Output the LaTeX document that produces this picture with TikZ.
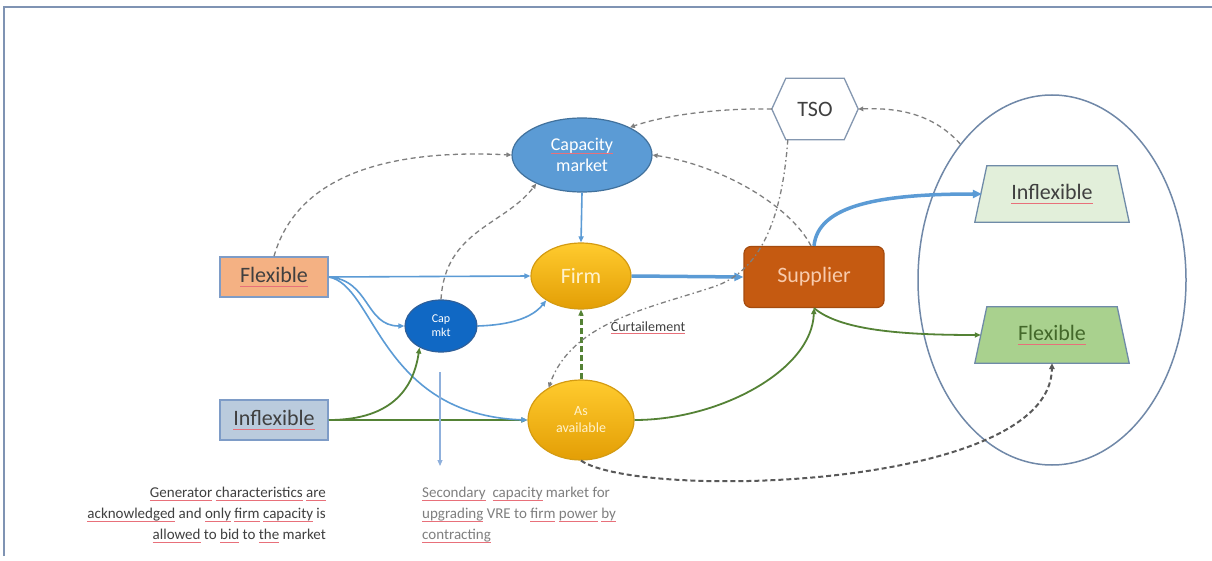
\documentclass[tikz,border=0pt]{standalone}
\usepackage{fontspec}
\setmainfont{Carlito}
\usetikzlibrary{shapes.geometric,arrows.meta}
\definecolor{framecol}{HTML}{7F93B3}
\definecolor{blueln}{HTML}{5B9BD5}
\definecolor{greenln}{HTML}{548235}
\definecolor{dashgray}{HTML}{7F7F7F}
\definecolor{darkdash}{HTML}{595959}
\definecolor{capblue}{HTML}{5B9BD5}
\definecolor{capborder}{HTML}{41719C}
\definecolor{capmktblue}{HTML}{1068C4}
\definecolor{capmktborder}{HTML}{2E5F9A}
\definecolor{goldtop}{HTML}{FFCB2E}
\definecolor{goldbot}{HTML}{E39E05}
\definecolor{goldborder}{HTML}{D49B12}
\definecolor{flexfill}{HTML}{F4B183}
\definecolor{inflfill}{HTML}{BACBDD}
\definecolor{boxborder}{HTML}{7E9CC7}
\definecolor{supfill}{HTML}{C55A11}
\definecolor{supborder}{HTML}{A54B0E}
\definecolor{suptext}{HTML}{F8CBAD}
\definecolor{lightgreen}{HTML}{E2EFDA}
\definecolor{midgreen}{HTML}{A9D18E}
\definecolor{trapborder}{HTML}{6F8BA8}
\definecolor{grpborder}{HTML}{7088A8}
\definecolor{tsoborder}{HTML}{8497B0}
\definecolor{txt}{HTML}{404040}
\definecolor{graytxt}{HTML}{7F7F7F}
\definecolor{splred}{HTML}{E8707A}
\definecolor{firmtxt}{HTML}{FFF2CC}
\definecolor{sdblue}{HTML}{8FB0DC}
\newcommand\sq[1]{\setbox0=\hbox{#1}\rlap{\color{splred}\rule[-0.2em]{\wd0}{0.8pt}}\box0\relax}
\begin{document}
\begin{tikzpicture}[x=1pt,y=-1pt,
  ellip/.style={ellipse, inner sep=0pt, line width=1.2pt},
  gold/.style={ellip, top color=goldtop, bottom color=goldbot, draw=goldborder, text=firmtxt},
  box/.style={rectangle, inner sep=0pt, draw=boxborder, line width=1.5pt, minimum width=108pt, minimum height=40pt, text=txt, font=\fontsize{22}{24}\selectfont},
  arr/.style={-{Triangle[length=6pt,width=5pt]}},
  bigarr/.style={-{Triangle[length=9pt,width=8pt]}},
  bluel/.style={draw=blueln, line width=1.6pt, arr},
  greenl/.style={draw=greenln, line width=1.8pt, arr},
  gdash/.style={draw=dashgray, line width=1.3pt, dash pattern=on 5pt off 3.5pt, -{Triangle[length=5pt,width=4.5pt]}},
  gdashdot/.style={draw=dashgray, line width=1.3pt, dash pattern=on 5pt off 3pt on 1.5pt off 3pt, -{Triangle[length=5pt,width=4.5pt]}},
  ddash/.style={draw=darkdash, line width=2pt, dash pattern=on 5pt off 3pt, -{Triangle[length=6pt,width=5.5pt]}},
  ]
\useasboundingbox (0,0) rectangle (1212,561);
\fill[white] (0,0) rectangle (1212,561);
\draw[framecol, line width=1.5pt] (4,556) -- (4,7) -- (1212,7);

% group ellipse
\node[ellip, draw=grpborder, line width=1.5pt, minimum width=268pt, minimum height=370pt] (grp) at (1052,280) {};

% nodes
\node[ellip, fill=capblue, draw=capborder, minimum width=140pt, minimum height=74pt, text=white, font=\fontsize{18}{21}\selectfont, align=center] (capm) at (582,155) {\sq{Capacity}\\market};
\node[rectangle, minimum width=86pt, minimum height=61pt, inner sep=0pt, text=txt, font=\fontsize{22}{24}\selectfont] (tso) at (815,109) {TSO};
\draw[tsoborder, line width=1.3pt] (tso.west) -- ([xshift=14pt]tso.north west) -- ([xshift=-14pt]tso.north east) -- (tso.east) -- ([xshift=-14pt]tso.south east) -- ([xshift=14pt]tso.south west) -- cycle;

\node[box, fill=flexfill] (flexL) at (274,277) {\sq{Flexible}};
\node[box, fill=inflfill] (inflL) at (274,420) {\sq{Inflexible}};

\node[gold, minimum width=100pt, minimum height=66pt, font=\fontsize{22}{24}\selectfont] (firm) at (581,276) {Firm};
\node[ellip, fill=capmktblue, draw=capmktborder, minimum width=72pt, minimum height=52pt, text=white, font=\fontsize{12}{14}\selectfont, align=center] (capmkt) at (441,326) {Cap\\mkt};
\node[gold, minimum width=106pt, minimum height=80pt, font=\fontsize{14}{17}\selectfont, align=center] (asav) at (581,420) {As\\available};

\node[rectangle, rounded corners=7pt, fill=supfill, draw=supborder, line width=1.2pt, minimum width=140pt, minimum height=61pt, text=suptext, font=\fontsize{22}{24}\selectfont] (sup) at (814,277) {Supplier};

\node[rectangle, minimum width=154pt, minimum height=56pt, inner sep=0pt] (inflR) at (1052,194) {};
\node[rectangle, minimum width=154pt, minimum height=56pt, inner sep=0pt] (flexR) at (1052,335) {};
\filldraw[fill=lightgreen, draw=trapborder, line width=1.3pt] (inflR.south west) -- ([xshift=12pt]inflR.north west) -- ([xshift=-12pt]inflR.north east) -- (inflR.south east) -- cycle;
\filldraw[fill=midgreen, draw=trapborder, line width=1.3pt] (flexR.south west) -- ([xshift=12pt]flexR.north west) -- ([xshift=-12pt]flexR.north east) -- (flexR.south east) -- cycle;
\node[text=txt, font=\fontsize{22}{24}\selectfont] (inflRt) at (inflR.center) {\sq{Inflexible}};
\node[text=greenln!80!black, font=\fontsize{22}{24}\selectfont] (flexRt) at (flexR.center) {\sq{Flexible}};

% solid connectors
\draw[greenl] (inflL.east) -- (asav.west);
\draw[bluel] (flexL.east) -- (firm.west);
\draw[draw=blueln, line width=3.5pt, bigarr] (firm.east) -- (sup.west);
\draw[bluel] (capm.south) -- (firm.north);
\draw[bluel] (flexL.east) .. controls (370,280) and (365,326) .. (capmkt.west);
\draw[bluel] (capmkt.east) .. controls (510,325) and (532,318) .. (firm.215);
\draw[bluel] (flexL.east) .. controls (375,285) and (380,415) .. (asav.west);
\draw[greenl] (inflL.east) .. controls (395,420) and (414,385) .. (capmkt.225);
\draw[draw=greenln, line width=3pt, dash pattern=on 6pt off 3pt, arr] (asav.north) -- (firm.south);
\draw[greenl] (asav.east) .. controls (720,420) and (812,370) .. (sup.south);
\draw[greenl] (sup.south) .. controls (840,330) and (900,335) .. ([xshift=6pt]flexR.west);
\draw[draw=blueln, line width=3.5pt, bigarr] (sup.north) .. controls (818,205) and (880,194) .. ([xshift=7pt]inflR.west);

% dashed connectors
\draw[gdash] (flexL.north) .. controls (300,165) and (410,150) .. (capm.west);
\draw[gdash] (capmkt.north) .. controls (445,230) and (505,225) .. (capm.212);
\draw[gdash] (tso.west) .. controls (720,108) and (665,115) .. (capm.30);
\draw[gdash] ([xshift=-3pt]sup.north) .. controls (790,205) and (720,165) .. (capm.east);
\draw[gdashdot] ([xshift=16pt]tso.south west) .. controls (782,220) and (760,272) .. (713,287) .. controls (650,308) and (572,322) .. (asav.135);
\draw[gdash] (grp.124) .. controls (930,110) and (890,108) .. (tso.east);
\draw[ddash] (asav.south) .. controls (640,500) and (1050,490) .. (flexR.south);

% free arrow to the note
\coordinate (sdtop) at (440,372);
\coordinate (sdbot) at (440,466);
\draw[draw=sdblue, line width=1.1pt, arr] (sdtop) -- (sdbot);

% labels
\node[text=txt, font=\fontsize{14}{16}\selectfont] (curt) at (648,328) {\sq{Curtailement}};
\node[anchor=north east, align=right, inner sep=0pt, text=txt, font=\fontsize{15}{21}\selectfont] (note1) at (326,487) {\sq{Generator} \sq{characteristics} \sq{are}\\ \sq{acknowledged} and \sq{only} \sq{firm} \sq{capacity} is\\ \sq{allowed} to \sq{bid} to \sq{the} market};
\node[anchor=north west, align=left, inner sep=0pt, text=graytxt, font=\fontsize{15}{21}\selectfont] (note2) at (422,487) {\sq{Secondary}\ \ \sq{capacity} market for\\ \sq{upgrading} VRE to \sq{firm} \sq{power} \sq{by}\\ \sq{contracting}};
\end{tikzpicture}
\end{document}
